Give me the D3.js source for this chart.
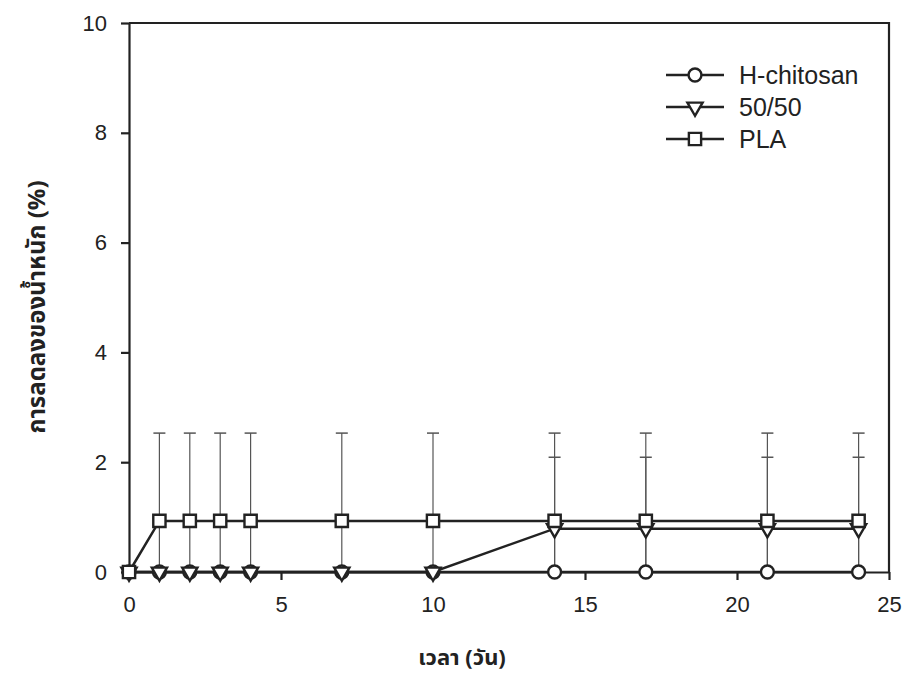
<!DOCTYPE html>
<html>
<head>
<meta charset="utf-8">
<script src="https://cdn.jsdelivr.net/npm/d3@7"></script>
<style>
  body { margin: 0; background: #fff; }
  .axis text { font-family: "Liberation Sans", Arial, sans-serif; font-size: 22px; fill: #222; }
  .axis path, .axis line { stroke: #222; stroke-width: 2.2; }
  .thai { font-family: "Noto Sans Thai", Tahoma, "DejaVu Sans", sans-serif; font-weight: bold; fill: #222; }
</style>
</head>
<body>
<div id="plot"></div>
<script>
const ink = "#222";

// data
const days = [0, 1, 2, 3, 4, 7, 10, 14, 17, 21, 24];
const chitosan = [0, 0, 0, 0, 0, 0, 0, 0, 0, 0, 0];
const blend = [0, 0, 0, 0, 0, 0, 0, 0.79, 0.79, 0.79, 0.79];
const blendErr = [0, 0, 0, 0, 0, 0, 0, 1.3, 1.3, 1.3, 1.3];
const pla = [0, 0.93, 0.93, 0.93, 0.93, 0.93, 0.93, 0.93, 0.93, 0.93, 0.93];
const plaErr = [0, 1.6, 1.6, 1.6, 1.6, 1.6, 1.6, 1.6, 1.6, 1.6, 1.6];
const xTicks = [0, 5, 10, 15, 20, 25];
const yTicks = [0, 2, 4, 6, 8, 10];
const seriesNames = ["H-chitosan", "50/50", "PLA"];

const W = 906, H = 679;
const margin = {top: 23, right: 17, bottom: 107, left: 129},
      width = W - margin.left - margin.right,
      height = H - margin.top - margin.bottom;

const svg = d3.select("#plot")
  .append("svg")
    .attr("width", W)
    .attr("height", H);

const g = svg.append("g")
    .attr("transform", "translate(" + margin.left + "," + margin.top + ")");

const xScale = d3.scaleLinear().domain([0, 25]).range([0, width]),
      yScale = d3.scaleLinear().domain([0, 10]).range([height, 0]);

// axes
g.append("g")
  .attr("class", "axis")
  .attr("transform", "translate(0," + height + ")")
  .call(d3.axisBottom(xScale).tickValues(xTicks).tickSize(8).tickPadding(16).tickSizeOuter(0));

g.append("g")
  .attr("class", "axis")
  .call(d3.axisLeft(yScale).tickValues(yTicks).tickSize(8).tickPadding(14).tickSizeOuter(0));

// frame top + right
g.append("path")
  .attr("d", d3.line()([[xScale(0), yScale(10)], [xScale(25), yScale(10)], [xScale(25), yScale(0)]]))
  .attr("fill", "none")
  .attr("stroke", ink)
  .attr("stroke-width", 2.2);

// axis titles
svg.append("text")
  .attr("class", "thai")
  .attr("font-size", 24)
  .attr("text-anchor", "middle")
  .attr("transform", "translate(45,307) rotate(-90)")
  .text("การลดลงของน้ำหนัก (%)");

svg.append("text")
  .attr("class", "thai")
  .attr("font-size", 22)
  .attr("text-anchor", "middle")
  .attr("x", 462)
  .attr("y", 665)
  .text("เวลา (วัน)");

// error bars
const capW = 6;
function errorBars(vals, errs) {
  days.forEach((d, i) => {
    if (!errs[i]) return;
    const top = vals[i] + errs[i],
          bot = Math.max(0, vals[i] - errs[i]);
    g.append("line")
      .attr("x1", xScale(d)).attr("x2", xScale(d))
      .attr("y1", yScale(top)).attr("y2", yScale(bot))
      .attr("stroke", "#555").attr("stroke-width", 1.2);
    g.append("line")
      .attr("x1", xScale(d) - capW).attr("x2", xScale(d) + capW)
      .attr("y1", yScale(top)).attr("y2", yScale(top))
      .attr("stroke", "#555").attr("stroke-width", 1.5);
  });
}
errorBars(pla, plaErr);
errorBars(blend, blendErr);

// markers
const symbols = [d3.symbolCircle, d3.symbolTriangle, d3.symbolSquare];
const symSizes = [130, 100, 150];
function marker(sel, k) {
  sel.attr("d", d3.symbol().type(symbols[k]).size(symSizes[k]))
    .attr("fill", "#fff")
    .attr("stroke", ink)
    .attr("stroke-width", 2.4);
  if (k === 1) sel.attr("transform", sel.attr("transform") + " rotate(180)");
}

const lineGen = d3.line().x((d, i) => xScale(days[i])).y(d => yScale(d));
[chitosan, blend, pla].forEach((vals, k) => {
  g.append("path")
    .datum(vals)
    .attr("d", lineGen)
    .attr("fill", "none")
    .attr("stroke", ink)
    .attr("stroke-width", 2.5);
  vals.forEach((v, i) => {
    g.append("path")
      .attr("transform", "translate(" + xScale(days[i]) + "," + yScale(v) + ")")
      .call(marker, k);
  });
});

// legend
const legend = svg.append("g").attr("transform", "translate(666,75)");
seriesNames.forEach((name, k) => {
  const row = legend.append("g").attr("transform", "translate(0," + k * 32 + ")");
  row.append("line")
    .attr("x1", 0).attr("x2", 58)
    .attr("stroke", ink).attr("stroke-width", 2.5);
  row.append("path")
    .attr("transform", "translate(29,0)")
    .call(marker, k);
  row.append("text")
    .attr("x", 73)
    .attr("dy", "0.36em")
    .attr("font-family", "Liberation Sans, Arial, sans-serif")
    .attr("font-size", 25)
    .attr("fill", ink)
    .text(name);
});
</script>
</body>
</html>
